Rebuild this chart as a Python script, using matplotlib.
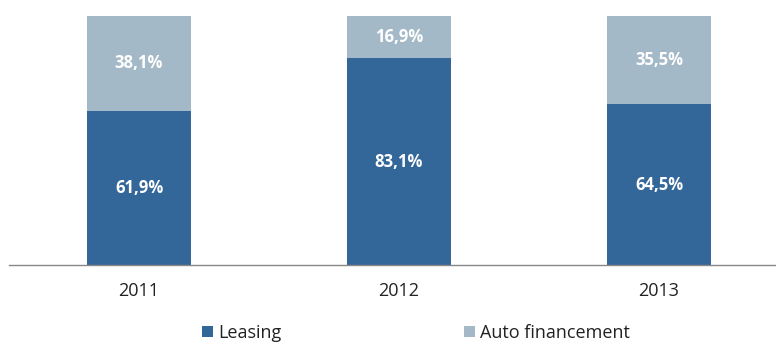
import matplotlib.pyplot as plt
import numpy as np

years = ['2011', '2012', '2013']
leasing = [61.9, 83.1, 64.5]
auto_fin = [38.1, 16.9, 35.5]

col_leasing = '#336699'
col_auto = '#a3b9c8'

plt.rcParams['font.family'] = ['Open Sans', 'DejaVu Sans']

fig = plt.figure(figsize=(7.76, 3.44), dpi=100)
ax = fig.add_axes([9/776, 79/344, 767/776, 249/344])

x = np.arange(len(years))
width = 0.4
ax.bar(x, leasing, width, color=col_leasing, label='Leasing')
ax.bar(x, auto_fin, width, bottom=leasing, color=col_auto, label='Auto financement')

# valeurs au centre de chaque segment
for i in range(len(years)):
    ax.text(x[i], leasing[i] / 2, f'{leasing[i]:.1f}%'.replace('.', ','),
            ha='center', va='center', color='white', fontsize=12, fontweight='bold')
    ax.text(x[i], leasing[i] + auto_fin[i] / 2, f'{auto_fin[i]:.1f}%'.replace('.', ','),
            ha='center', va='center', color='white', fontsize=12, fontweight='bold')

ax.set_xlim(-0.5, -0.5 + 767/260)
ax.set_ylim(0, 100)
ax.set_xticks(x)
ax.set_xticklabels(years, fontsize=13, color='#222222')
ax.tick_params(axis='x', length=0, pad=12)
ax.set_yticks([])
for s in ['top', 'right', 'left']:
    ax.spines[s].set_visible(False)
ax.spines['bottom'].set_color('#888888')
ax.spines['bottom'].set_linewidth(1)

fig.legend(loc='center', bbox_to_anchor=(416/776, 1 - 333/344), ncol=2, frameon=False,
           fontsize=13, handlelength=0.62, handleheight=0.62, handletextpad=0.3,
           columnspacing=10.1, labelcolor='#222222')

fig.savefig('out.png', dpi=100)
